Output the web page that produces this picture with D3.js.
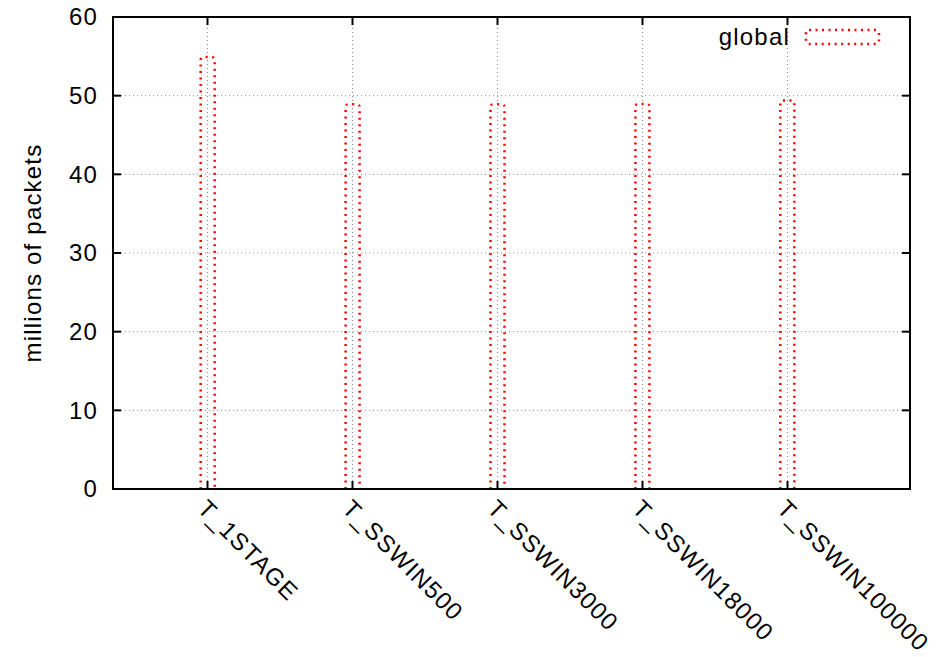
<!DOCTYPE html>
<html>
<head>
<meta charset="utf-8">
<script src="https://cdn.jsdelivr.net/npm/d3@7"></script>
<style>
  html, body { margin: 0; padding: 0; background: #fff; }
  svg { display: block; font-family: "Liberation Sans", Arial, Helvetica, sans-serif; }
  text { letter-spacing: 1.2px; }
</style>
</head>
<body>
<svg id="chart" width="941" height="657"></svg>
<script>
// Packet counts per configuration (millions)
const categories = ["T_1STAGE", "T_SSWIN500", "T_SSWIN3000", "T_SSWIN18000", "T_SSWIN100000"];
const globalValues = [54.9, 48.9, 48.9, 48.95, 49.4];
const yTicks = [0, 10, 20, 30, 40, 50, 60];
const seriesName = "global";

const svg = d3.select("#chart");
const margin = { left: 113, right: 31, top: 17, bottom: 168 };
const W = 941, H = 657;
const x0 = margin.left, x1 = W - margin.right, y0 = H - margin.bottom, y1 = margin.top;
const fs = 24;

const x = d3.scaleLinear().domain([-0.65, 4.85]).range([x0, x1]);
const y = d3.scaleLinear().domain([0, 60]).range([y0, y1]);
const barW = 14;
const idx = categories.map((_, i) => i);

// grid
const grid = svg.append("g").attr("stroke", "#8a8a8a").attr("stroke-width", 1).attr("stroke-dasharray", "1,3");
yTicks.slice(1, -1).forEach(t => {
  grid.append("line").attr("x1", x0).attr("x2", x1).attr("y1", y(t)).attr("y2", y(t));
});
idx.forEach(i => {
  grid.append("line").attr("x1", Math.round(x(i)) + 0.5).attr("x2", Math.round(x(i)) + 0.5).attr("y1", y0).attr("y2", y1);
});

// bars: dotted outline with rounded top
const bars = svg.append("g");
globalValues.forEach((v, i) => {
  const cx = x(i) + 0.5;
  const l = cx - barW / 2, r = cx + barW / 2, top = y(v), bot = y(0);
  const rr = 3;
  const p = `M${l},${bot} L${l},${top + rr} Q${l},${top} ${l + rr},${top} L${r - rr},${top} Q${r},${top} ${r},${top + rr} L${r},${bot}`;
  bars.append("path").attr("d", p).attr("fill", "none")
    .attr("stroke", "#ff0000").attr("stroke-width", 2.5).attr("stroke-dasharray", "2,4.5");
});

// axes with mirrored inward ticks
const axisG = svg.append("g").attr("stroke", "#000");
const tickLen = 8;
yTicks.forEach(t => {
  axisG.append("line").attr("x1", x0).attr("x2", x0 + tickLen).attr("y1", y(t)).attr("y2", y(t)).attr("stroke-width", 2);
  axisG.append("line").attr("x1", x1).attr("x2", x1 - tickLen).attr("y1", y(t)).attr("y2", y(t)).attr("stroke-width", 2);
});
idx.forEach(i => {
  const px = Math.round(x(i)) + 0.5;
  axisG.append("line").attr("x1", px).attr("x2", px).attr("y1", y0).attr("y2", y0 - tickLen).attr("stroke-width", 2);
  axisG.append("line").attr("x1", px).attr("x2", px).attr("y1", y1).attr("y2", y1 + tickLen).attr("stroke-width", 2);
});
svg.append("rect").attr("x", x0).attr("y", y1).attr("width", x1 - x0).attr("height", y0 - y1)
  .attr("fill", "none").attr("stroke", "#000").attr("stroke-width", 2);

// y tick labels
svg.append("g").selectAll("text").data(yTicks).join("text")
  .attr("x", x0 - 15).attr("y", d => y(d)).attr("dy", "0.35em")
  .attr("text-anchor", "end").attr("font-size", fs).text(d => d);

// x tick labels, rotated
svg.append("g").selectAll("text").data(categories).join("text")
  .attr("transform", (d, i) => `translate(${x(i) - 11},${y0 + 21}) rotate(45)`)
  .attr("text-anchor", "start").attr("font-size", fs).text(d => d);

// y axis title
svg.append("text").attr("transform", `translate(41,${(y0 + y1) / 2}) rotate(-90)`)
  .attr("text-anchor", "middle").attr("font-size", fs).text("millions of packets");

// legend
const ly = 37;
svg.append("text").attr("x", 790).attr("y", ly).attr("dy", "0.35em")
  .attr("text-anchor", "end").attr("font-size", fs).text(seriesName);
svg.append("rect").attr("x", 806).attr("y", ly - 7).attr("width", 73).attr("height", 14).attr("rx", 3)
  .attr("fill", "none").attr("stroke", "#ff0000").attr("stroke-width", 2.5).attr("stroke-dasharray", "2,4.5");
</script>
</body>
</html>
